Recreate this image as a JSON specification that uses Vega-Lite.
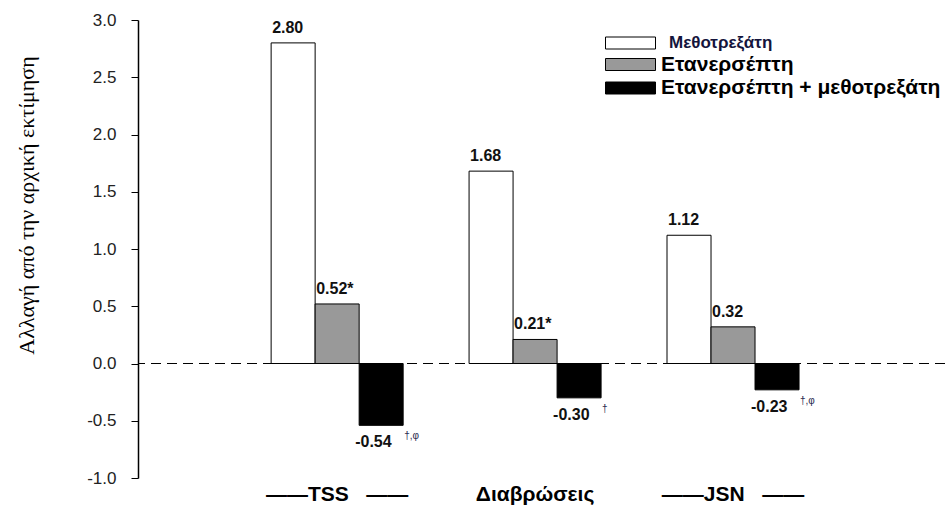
{
  "$schema": "https://vega.github.io/schema/vega-lite/v6.json",
  "width": 807,
  "height": 458,
  "autosize": {"type": "none"},
  "padding": {"left": 138, "top": 20, "right": 4, "bottom": 31},
  "background": "white",
  "config": {"view": {"stroke": null}, "font": "Liberation Sans"},
  "data": {
    "values": [
      {"cat": "TSS", "series": "Μεθοτρεξάτη", "value": 2.80, "label": "2.80", "sup": ""},
      {"cat": "TSS", "series": "Ετανερσέπτη", "value": 0.52, "label": "0.52*", "sup": ""},
      {"cat": "TSS", "series": "Ετανερσέπτη + μεθοτρεξάτη", "value": -0.54, "label": "-0.54", "sup": "†,φ"},
      {"cat": "Διαβρώσεις", "series": "Μεθοτρεξάτη", "value": 1.68, "label": "1.68", "sup": ""},
      {"cat": "Διαβρώσεις", "series": "Ετανερσέπτη", "value": 0.21, "label": "0.21*", "sup": ""},
      {"cat": "Διαβρώσεις", "series": "Ετανερσέπτη + μεθοτρεξάτη", "value": -0.30, "label": "-0.30", "sup": "†"},
      {"cat": "JSN", "series": "Μεθοτρεξάτη", "value": 1.12, "label": "1.12", "sup": ""},
      {"cat": "JSN", "series": "Ετανερσέπτη", "value": 0.32, "label": "0.32", "sup": ""},
      {"cat": "JSN", "series": "Ετανερσέπτη + μεθοτρεξάτη", "value": -0.23, "label": "-0.23", "sup": "†,φ"}
    ]
  },
  "encoding": {
    "x": {
      "field": "cat", "type": "nominal", "sort": ["TSS", "Διαβρώσεις", "JSN"],
      "scale": {"paddingInner": 0.333, "paddingOuter": 0.705, "align": 0.477},
      "axis": {
        "title": null, "domain": false, "ticks": false, "labelAngle": 0,
        "labelFont": "Liberation Sans", "labelFontWeight": "bold", "labelFontSize": 21,
        "labelColor": "#000000", "labelPadding": 5, "labelLimit": 300,
        "labelExpr": "datum.value == 'Διαβρώσεις' ? datum.value : '——' + datum.value + '\u00a0\u00a0\u00a0——'"
      }
    },
    "xOffset": {
      "field": "series", "type": "nominal",
      "sort": ["Μεθοτρεξάτη", "Ετανερσέπτη", "Ετανερσέπτη + μεθοτρεξάτη"],
      "scale": {"paddingInner": 0, "paddingOuter": 0}
    },
    "y": {
      "field": "value", "type": "quantitative",
      "scale": {"domain": [-1, 3], "nice": false, "zero": false},
      "axis": {
        "title": "Αλλαγή από την αρχική εκτίμηση",
        "titleFont": "Liberation Serif", "titleFontWeight": "normal", "titleFontSize": 22,
        "titleColor": "#000000", "titleAngle": -90, "titleX": -112, "titleY": 185,
        "titleAlign": "center", "titleBaseline": "middle",
        "values": [-1, -0.5, 0, 0.5, 1, 1.5, 2, 2.5, 3], "format": ".1f",
        "labelExpr": "replace(datum.label, '\u2212', '-')",
        "grid": false, "domainColor": "#000000", "domainWidth": 1.5,
        "tickColor": "#000000", "tickSize": 7, "labelPadding": 15,
        "labelFont": "Liberation Sans", "labelFontSize": 17, "labelColor": "#222222"
      }
    }
  },
  "layer": [
    {
      "mark": {"type": "bar", "stroke": "#000000", "strokeWidth": 1},
      "encoding": {
        "color": {
          "field": "series", "type": "nominal",
          "sort": ["Μεθοτρεξάτη", "Ετανερσέπτη", "Ετανερσέπτη + μεθοτρεξάτη"],
          "scale": {"range": ["#ffffff", "#999999", "#000000"]},
          "legend": {
            "title": null, "orient": "none", "legendX": 467, "legendY": 10,
            "symbolType": "M-1,-0.48H3V0.48H-1Z", "symbolSize": 625,
            "symbolStrokeColor": "#000000", "symbolStrokeWidth": 1, "symbolOpacity": 1,
            "labelFont": "Liberation Sans", "labelFontWeight": "bold", "labelFontSize": 21,
            "labelColor": "#000000", "labelLimit": 400, "rowPadding": 0.5, "labelOffset": 30,
            "encode": {
              "labels": {
                "update": {
                  "fontSize": {"signal": "datum.index === 0 ? 17 : 21"},
                  "fill": {"signal": "datum.index === 0 ? '#14143c' : '#000000'"},
                  "dx": {"signal": "datum.index === 0 ? 8 : 0"}
                }
              }
            }
          }
        }
      }
    },
    {
      "mark": {"type": "rule", "strokeDash": [10, 6], "color": "#000000", "strokeWidth": 1.2},
      "encoding": {"y": {"datum": 0}, "x": null, "xOffset": null}
    },
    {
      "transform": [{"filter": "datum.value > 0"}],
      "mark": {"type": "text", "align": "left", "baseline": "alphabetic", "dx": -21, "dy": -10,
               "fontWeight": "bold", "fontSize": 16, "color": "#111111"},
      "encoding": {"text": {"field": "label"}}
    },
    {
      "transform": [{"filter": "datum.value < 0"}],
      "mark": {"type": "text", "align": "left", "baseline": "middle", "dx": -26, "dy": 17,
               "fontWeight": "bold", "fontSize": 16, "color": "#111111"},
      "encoding": {"text": {"field": "label"}}
    },
    {
      "transform": [{"filter": "datum.value < 0"}],
      "mark": {"type": "text", "align": "left", "baseline": "middle", "dx": 23, "dy": 11,
               "fontSize": 10, "color": "#2a2a50"},
      "encoding": {"text": {"field": "sup"}}
    }
  ]
}
